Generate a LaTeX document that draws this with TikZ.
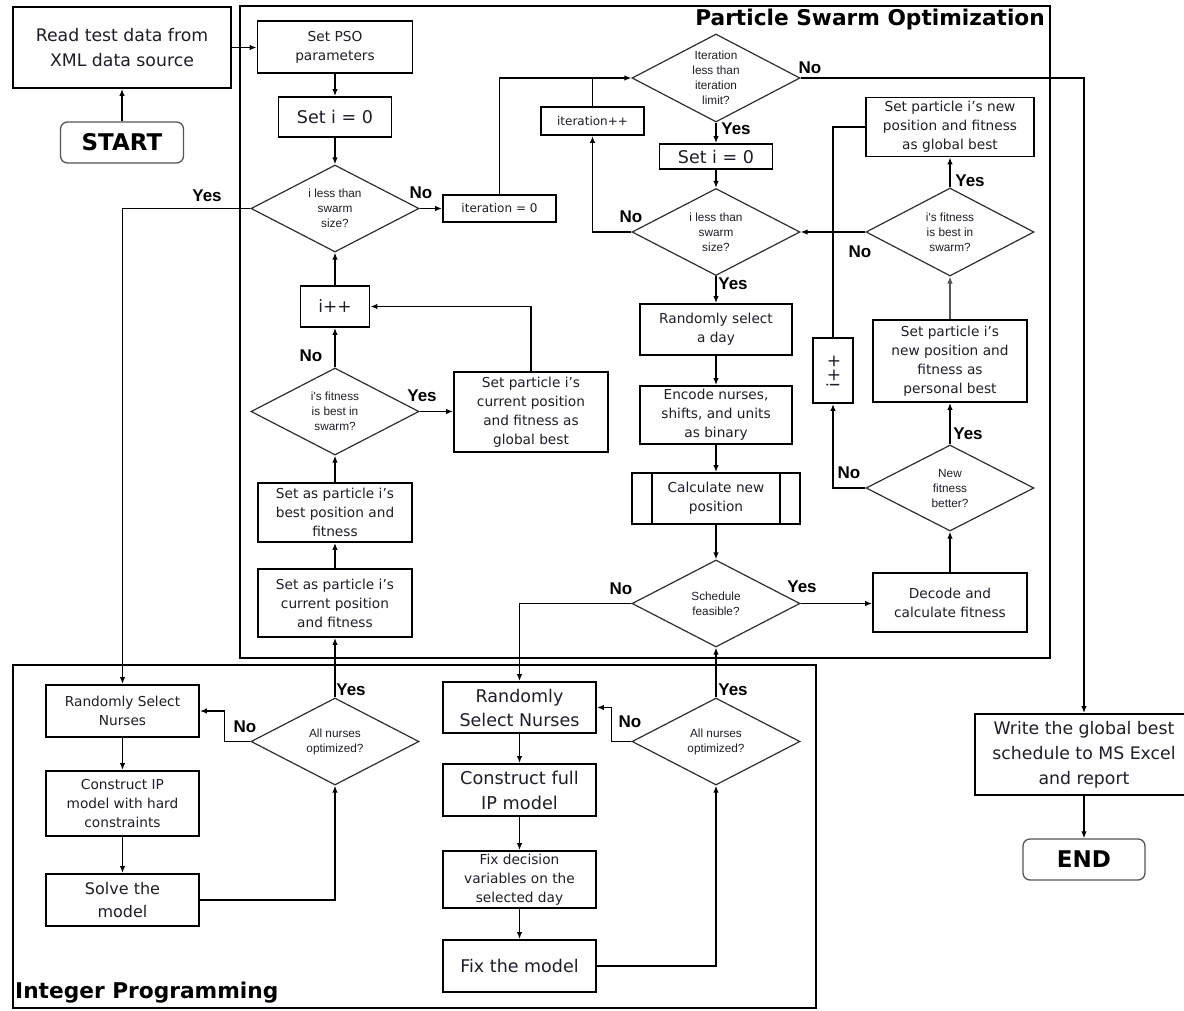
\documentclass[tikz,border=0pt]{standalone}
\usepackage{fontspec}
\usepackage{graphicx}
\setmainfont{DejaVu Sans}
\newfontfamily\arialf{Liberation Sans}
\usetikzlibrary{shapes.geometric,arrows.meta}
\definecolor{txt}{HTML}{1E1E28}
\definecolor{dline}{HTML}{2E2E2E}
\definecolor{rline}{HTML}{555555}
\tikzset{
  box/.style={draw, line width=1.8pt, align=center, inner sep=0pt, text=txt,
    font=\fontsize{13.7}{19}\selectfont},
  big/.style={font=\fontsize{17.3}{25}\selectfont},
  mid/.style={font=\fontsize{17.5}{24}\selectfont},
  tiny/.style={font=\fontsize{12}{14}\selectfont},
  term/.style={draw=rline, line width=1.3pt, rounded corners=7pt, inner sep=0pt,
    text=black, font=\bfseries\fontsize{23}{23}\selectfont},
  dia/.style={draw=dline, line width=1.2pt, shape=diamond, aspect=1.93,
    minimum width=168pt, minimum height=87pt, inner sep=0pt, align=center,
    text=txt, font=\arialf\fontsize{11.8}{15}\selectfont},
  lab/.style={inner sep=0pt, text=black, font=\arialf\bfseries\fontsize{17}{17}\selectfont},
  frame/.style={draw, line width=1.8pt},
  ttl/.style={inner sep=0pt, font=\bfseries\fontsize{21.7}{21.7}\selectfont},
  wire/.style={line width=1.7pt},
  arr/.style={line width=1.7pt, -{Latex[length=7pt,width=5.5pt]}}
}
\begin{document}
\begin{tikzpicture}[x=1pt,y=-1pt]
\useasboundingbox (0,0) rectangle (1184,1010);
\clip (0,0) rectangle (1184,1010);
\fill[white] (0,0) rectangle (1184,1010);

% group frames
\draw[frame] (240,6) rectangle (1050,658);
\draw[frame] (13,665) rectangle (816,1008);
\node[ttl, anchor=east] (psotitle) at (1045,19.5) {Particle Swarm Optimization};
\node[ttl, anchor=west] (iptitle) at (15,993) {Integer Programming};

% start and input
\node[box, big, minimum width=218pt, minimum height=81pt] (read) at (122,47.5) {Read test data from\\XML data source};
\node[term, minimum width=123pt, minimum height=41pt] (start) at (122,142.5) {START};

% PSO, left column
\node[box, minimum width=155pt, minimum height=52pt] (pso) at (335,47) {Set PSO\\parameters};
\node[box, font=\fontsize{17.5}{20}\selectfont, minimum width=113pt, minimum height=40pt] (seti) at (335,117) {Set i = 0};
\node[dia] (d1) at (335,208.5) {i less than\\swarm\\size?};
\node[box, font=\fontsize{17}{20}\selectfont, minimum width=69pt, minimum height=41pt] (ipp) at (335,306.5) {i++};
\node[dia] (d4) at (335,411.5) {i's fitness\\is best in\\swarm?};
\node[box, minimum width=154pt, minimum height=80pt] (gcur) at (531,412) {Set particle i’s\\current position\\and fitness as\\global best};
\node[box, minimum width=154pt, minimum height=59pt] (sbest) at (335,512.5) {Set as particle i’s\\best position and\\fitness};
\node[box, minimum width=154pt, minimum height=68pt] (scur) at (335,603) {Set as particle i’s\\current position\\and fitness};

% PSO, iteration counter
\node[box, tiny, minimum width=113pt, minimum height=27pt] (it0) at (499.5,208.5) {iteration = 0};
\node[box, tiny, minimum width=103pt, minimum height=28pt] (itpp) at (592.5,121) {iteration++};

% PSO, centre column
\node[dia, minimum height=88pt] (dIt) at (716,78) {Iteration\\less than\\iteration\\limit?};
\node[box, font=\fontsize{17.5}{20}\selectfont, minimum width=113pt, minimum height=25pt] (seti2) at (716,156.5) {Set i = 0};
\node[dia] (d2) at (716,232) {i less than\\swarm\\size?};
\node[box, minimum width=152pt, minimum height=51pt] (rsd) at (716,329.5) {Randomly select\\a day};
\node[box, minimum width=152pt, minimum height=58pt] (enc) at (716,415) {Encode nurses,\\shifts, and units\\as binary};
\node[box, minimum width=168pt, minimum height=51pt] (calc) at (716,498.5) {Calculate new\\position};
\draw[line width=1.8pt] ([xshift=21pt]calc.north west) -- ([xshift=21pt]calc.south west);
\draw[line width=1.8pt] ([xshift=-21pt]calc.north east) -- ([xshift=-21pt]calc.south east);
\node[dia] (feas) at (716,603.5) {Schedule\\feasible?};

% PSO, right column
\node[box, minimum width=168pt, minimum height=59pt] (gbest) at (950,127) {Set particle i’s new\\position and fitness\\as global best};
\node[dia, minimum height=88pt] (d3) at (950,232) {i's fitness\\is best in\\swarm?};
\node[box, minimum width=154pt, minimum height=82pt] (pbest) at (950,361) {Set particle i’s\\new position and\\fitness as\\personal best};
\node[dia, minimum height=86pt] (newfit) at (950,488) {New\\fitness\\better?};
\node[box, minimum width=154pt, minimum height=59pt] (decode) at (950,602.5) {Decode and\\calculate fitness};
\node[box, minimum width=40pt, minimum height=65pt] (ipp2) at (833,370.5) {\fontsize{17}{20}\selectfont\rotatebox{90}{i++}};

% Integer programming, left column
\node[box, minimum width=153pt, minimum height=52pt] (rsnL) at (122.5,711) {Randomly Select\\Nurses};
\node[box, minimum width=153pt, minimum height=65pt] (cipL) at (122.5,803.5) {Construct IP\\model with hard\\constraints};
\node[box, font=\fontsize{16}{23}\selectfont, minimum width=153pt, minimum height=52pt] (solve) at (122.5,900) {Solve the\\model};
\node[dia] (allL) at (335,741.5) {All nurses\\optimized?};

% Integer programming, centre column
\node[box, mid, minimum width=153pt, minimum height=51pt] (rsnM) at (519.5,707.5) {Randomly\\Select Nurses};
\node[box, font=\fontsize{17.7}{25}\selectfont, minimum width=153pt, minimum height=52pt] (cfull) at (519.5,790) {Construct full\\IP model};
\node[box, minimum width=153pt, minimum height=57pt] (fixdv) at (519.5,879.5) {Fix decision\\variables on the\\selected day};
\node[box, mid, minimum width=153pt, minimum height=52pt] (fixm) at (519.5,966) {Fix the model};
\node[dia] (allM) at (716,741.5) {All nurses\\optimized?};

% output
\node[box, big, minimum width=218pt, minimum height=81pt] (write) at (1084,754.5) {Write the global best\\schedule to MS Excel\\and report};
\node[term, minimum width=122pt, minimum height=41pt] (end) at (1084,859.5) {END};

% connectors
\draw[arr] (start.north) -- (start.north |- read.south);
\draw[arr] (read.east) -- (read.east -| pso.west);
\draw[arr] (pso.south) -- (seti.north);
\draw[arr] (seti.south) -- (d1.north);
\draw[arr] (d1.west) -| (rsnL.north);
\draw[arr] (d1.east) -- (it0.west);
\draw[arr] (it0.north) |- (dIt.west);
\draw[wire] (itpp.north) -- (itpp.north |- dIt.west);
\draw[arr] (dIt.south) -- (seti2.north);
\draw[arr] (dIt.east) -| (write.north);
\draw[arr] (seti2.south) -- (d2.north);
\draw[arr] (d2.west) -| (itpp.south);
\draw[arr] (d2.south) -- (rsd.north);
\draw[arr] (rsd.south) -- (enc.north);
\draw[arr] (enc.south) -- (calc.north);
\draw[arr] (calc.south) -- (feas.north);
\draw[arr] (feas.east) -- (feas.east -| decode.west);
\draw[arr] (feas.west) -| (rsnM.north);
\draw[arr] (decode.north) -- (newfit.south);
\draw[arr] (newfit.north) -- (pbest.south);
\draw[arr] (newfit.west) -| (ipp2.south);
\draw[arr, line width=1.1pt, draw=rline] (pbest.north) -- (d3.south);
\draw[arr] (d3.north) -- (gbest.south);
\draw[arr] (d3.west) -- (d2.east);
\draw[wire] (gbest.west) -| (ipp2.north);
\draw[arr] (ipp.north) -- (d1.south);
\draw[arr] (d4.north) -- (ipp.south);
\draw[arr] (d4.east) -- (d4.east -| gcur.west);
\draw[arr] (gcur.north) |- (ipp.east);
\draw[arr] (sbest.north) -- (d4.south);
\draw[arr] (scur.north) -- (sbest.south);
\draw[arr] (allL.north) -- (scur.south);
\draw[arr] (allL.west) -- ++(-26,0) |- (rsnL.east);
\draw[arr] (rsnL.south) -- (cipL.north);
\draw[arr] (cipL.south) -- (solve.north);
\draw[arr] (solve.east) -| (allL.south);
\draw[arr] (rsnM.south) -- (cfull.north);
\draw[arr] (cfull.south) -- (fixdv.north);
\draw[arr] (fixdv.south) -- (fixm.north);
\draw[arr] (fixm.east) -| (allM.south);
\draw[arr] (allM.west) -- ++(-20,0) |- (rsnM.east);
\draw[arr] (allM.north) -- (feas.south);
\draw[arr] (write.south) -- (end.north);

% branch labels
\node[lab] (y1) at (207,196) {Yes};
\node[lab] (n1) at (421,193) {No};
\node[lab] (n2) at (810,68) {No};
\node[lab] (y2) at (736,129) {Yes};
\node[lab] (n3) at (631,217) {No};
\node[lab] (y3) at (733,284) {Yes};
\node[lab] (n4) at (621,589) {No};
\node[lab] (y4) at (802,587) {Yes};
\node[lab] (y5) at (968,434) {Yes};
\node[lab] (n5) at (849,473) {No};
\node[lab] (y6) at (970,181) {Yes};
\node[lab] (n6) at (860,252) {No};
\node[lab] (n7) at (311,356) {No};
\node[lab] (y7) at (422,396) {Yes};
\node[lab] (y8) at (351,690) {Yes};
\node[lab] (n8) at (245,727) {No};
\node[lab] (y9) at (733,690) {Yes};
\node[lab] (n9) at (630,722) {No};
\end{tikzpicture}
\end{document}
